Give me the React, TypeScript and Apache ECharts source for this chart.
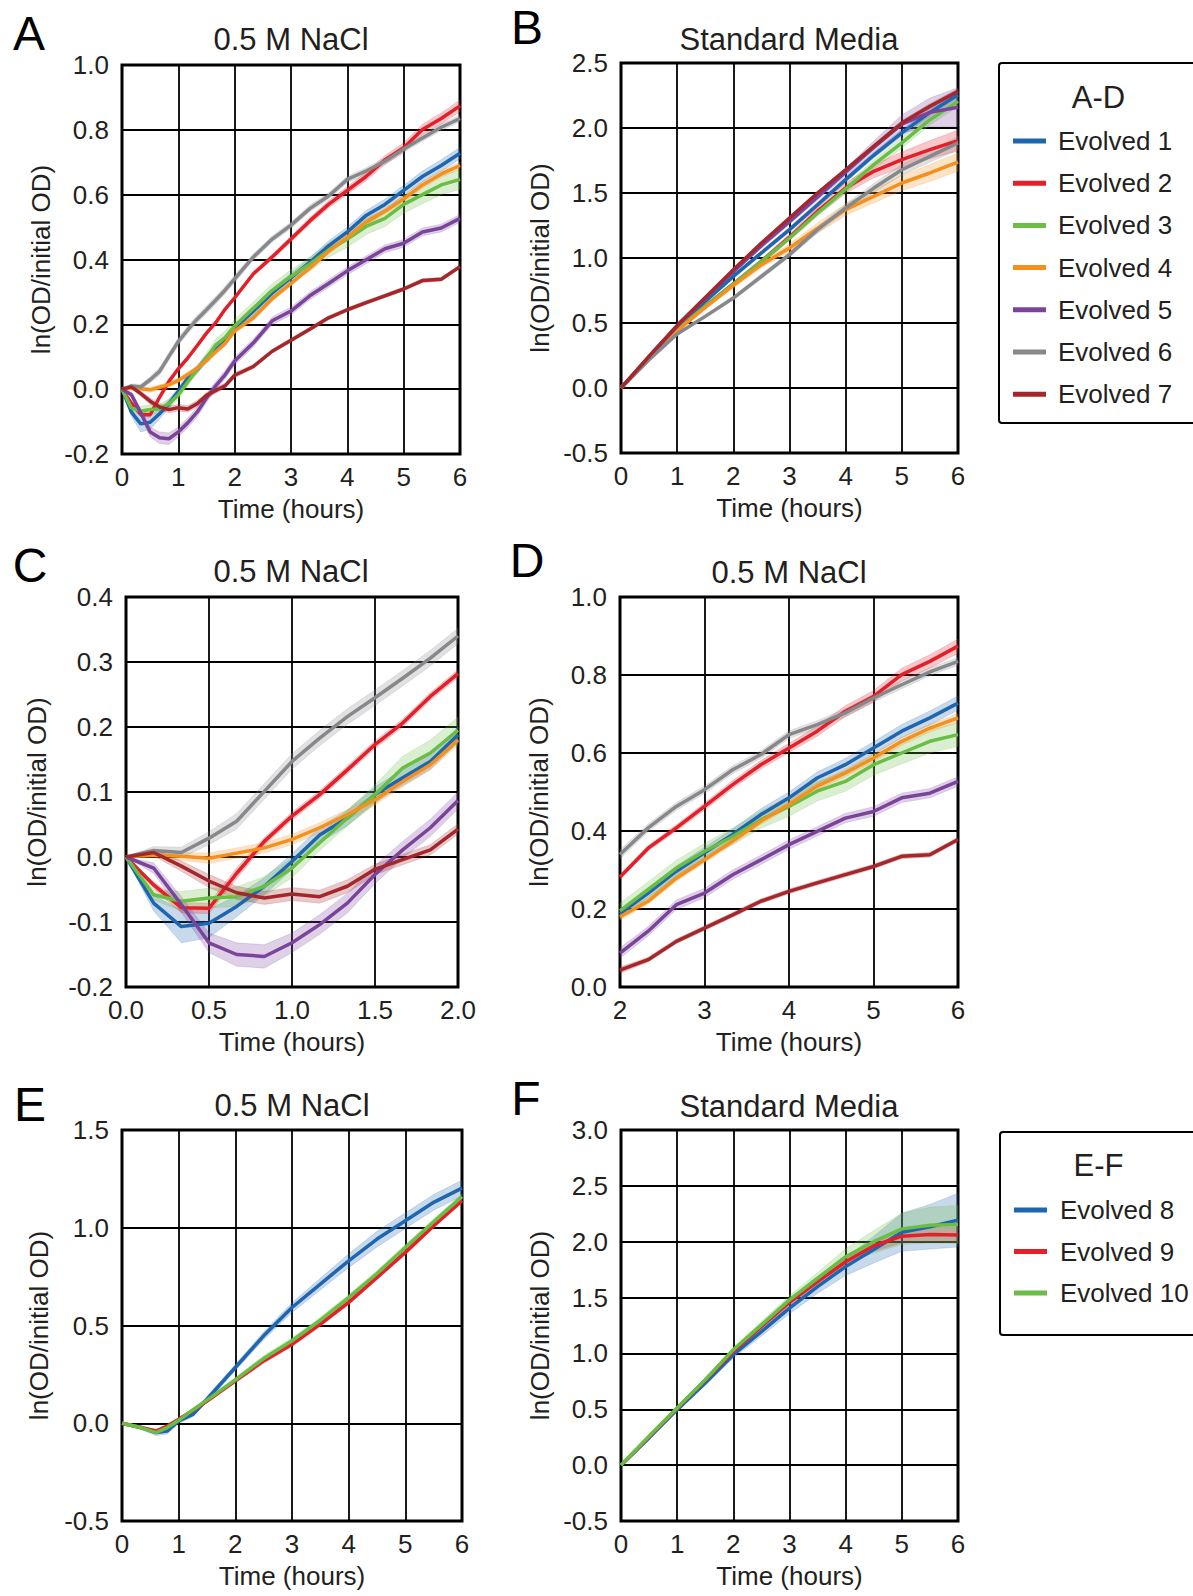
import React, { useEffect, useRef } from "react";
import * as echarts from "echarts";

// ---------- Data: 0.5 M NaCl, strains 1-7 (panels A, C, D) ----------
const tNaCl = [0, 1 / 6, 2 / 6, 3 / 6, 4 / 6, 5 / 6, 1, 7 / 6, 8 / 6, 9 / 6, 10 / 6, 11 / 6, 2, 7 / 3, 8 / 3, 3, 10 / 3, 11 / 3, 4, 13 / 3, 14 / 3, 5, 16 / 3, 17 / 3, 6];
const nacl1 = [0, -0.071, -0.107, -0.102, -0.076, -0.045, -0.007, 0.034, 0.06, 0.096, 0.122, 0.147, 0.188, 0.241, 0.297, 0.344, 0.391, 0.442, 0.485, 0.536, 0.57, 0.613, 0.656, 0.69, 0.728];
const nacl2 = [0, -0.043, -0.078, -0.079, -0.025, 0.024, 0.063, 0.096, 0.134, 0.173, 0.206, 0.247, 0.282, 0.356, 0.408, 0.463, 0.519, 0.57, 0.613, 0.656, 0.707, 0.745, 0.801, 0.835, 0.874];
const nacl3 = [0, -0.058, -0.068, -0.063, -0.061, -0.045, -0.017, 0.022, 0.06, 0.096, 0.137, 0.16, 0.195, 0.25, 0.305, 0.348, 0.386, 0.429, 0.463, 0.502, 0.527, 0.57, 0.6, 0.63, 0.647];
const nacl4 = [0, 0.003, 0.001, -0.002, 0.006, 0.014, 0.027, 0.045, 0.065, 0.088, 0.116, 0.142, 0.18, 0.22, 0.279, 0.326, 0.374, 0.425, 0.468, 0.515, 0.549, 0.587, 0.63, 0.664, 0.69];
const nacl5 = [0, -0.017, -0.073, -0.132, -0.15, -0.153, -0.132, -0.104, -0.071, -0.027, 0.011, 0.045, 0.087, 0.143, 0.211, 0.241, 0.288, 0.326, 0.365, 0.399, 0.433, 0.45, 0.485, 0.497, 0.527];
const nacl6 = [0, 0.01, 0.007, 0.029, 0.055, 0.101, 0.147, 0.183, 0.216, 0.245, 0.275, 0.306, 0.34, 0.408, 0.463, 0.506, 0.557, 0.596, 0.647, 0.673, 0.703, 0.741, 0.775, 0.808, 0.835];
const nacl7 = [0, 0.007, -0.014, -0.037, -0.055, -0.063, -0.057, -0.061, -0.045, -0.019, -0.004, 0.011, 0.043, 0.07, 0.117, 0.151, 0.185, 0.22, 0.245, 0.267, 0.288, 0.309, 0.335, 0.339, 0.378];

const naclErr1 = [0, 0.012, 0.025, 0.022, 0.016, 0.013, 0.012, 0.012, 0.012, 0.012, 0.012, 0.012, 0.012, 0.013, 0.013, 0.014, 0.014, 0.015, 0.015, 0.015, 0.016, 0.016, 0.017, 0.018, 0.018];
const naclErr2 = [0, 0.005, 0.008, 0.008, 0.008, 0.006, 0.006, 0.006, 0.006, 0.006, 0.006, 0.006, 0.006, 0.007, 0.008, 0.009, 0.01, 0.011, 0.012, 0.013, 0.014, 0.015, 0.016, 0.017, 0.018];
const naclErr3 = [0, 0.008, 0.015, 0.015, 0.015, 0.015, 0.015, 0.012, 0.012, 0.015, 0.018, 0.02, 0.02, 0.02, 0.02, 0.02, 0.022, 0.022, 0.025, 0.025, 0.025, 0.027, 0.028, 0.03, 0.03];
const naclErr4 = [0, 0.004, 0.006, 0.008, 0.008, 0.008, 0.008, 0.008, 0.008, 0.008, 0.008, 0.008, 0.008, 0.008, 0.008, 0.008, 0.008, 0.008, 0.009, 0.009, 0.009, 0.01, 0.01, 0.01, 0.011];
const naclErr5 = [0, 0.008, 0.012, 0.015, 0.018, 0.018, 0.015, 0.015, 0.015, 0.014, 0.013, 0.013, 0.013, 0.012, 0.012, 0.012, 0.012, 0.012, 0.012, 0.012, 0.012, 0.012, 0.012, 0.012, 0.012];
const naclErr6 = [0, 0.006, 0.008, 0.01, 0.012, 0.012, 0.012, 0.012, 0.012, 0.012, 0.012, 0.012, 0.012, 0.01, 0.01, 0.01, 0.01, 0.01, 0.01, 0.01, 0.01, 0.01, 0.01, 0.01, 0.01];
const naclErr7 = [0, 0.005, 0.008, 0.01, 0.01, 0.01, 0.01, 0.01, 0.01, 0.008, 0.008, 0.008, 0.008, 0.006, 0.006, 0.006, 0.006, 0.006, 0.006, 0.006, 0.006, 0.006, 0.006, 0.006, 0.006];

// ---------- Data: Standard media, strains 1-7 (panel B) ----------
const tStd = [0, 0.5, 1, 1.5, 2, 2.5, 3, 3.5, 4, 4.5, 5, 5.5, 6];
const std1 = [0, 0.235, 0.462, 0.665, 0.859, 1.04, 1.218, 1.41, 1.603, 1.79, 1.962, 2.12, 2.256];
const std2 = [0, 0.23, 0.449, 0.63, 0.8, 0.974, 1.16, 1.36, 1.538, 1.667, 1.756, 1.833, 1.903];
const std3 = [0, 0.23, 0.449, 0.63, 0.8, 0.974, 1.154, 1.346, 1.53, 1.718, 1.885, 2.064, 2.205];
const std4 = [0, 0.225, 0.44, 0.62, 0.79, 0.949, 1.077, 1.23, 1.372, 1.474, 1.577, 1.654, 1.738];
const std5 = [0, 0.24, 0.475, 0.69, 0.895, 1.095, 1.28, 1.47, 1.66, 1.85, 2.03, 2.12, 2.16];
const std6 = [0, 0.218, 0.415, 0.551, 0.692, 0.859, 1.026, 1.218, 1.385, 1.538, 1.679, 1.782, 1.885];
const std7 = [0, 0.244, 0.482, 0.697, 0.91, 1.115, 1.308, 1.5, 1.679, 1.859, 2.038, 2.167, 2.282];

const stdErr1 = [0, 0.01, 0.01, 0.012, 0.015, 0.015, 0.018, 0.02, 0.02, 0.022, 0.025, 0.028, 0.03];
const stdErr2 = [0, 0.01, 0.01, 0.012, 0.015, 0.02, 0.025, 0.03, 0.04, 0.05, 0.06, 0.07, 0.08];
const stdErr3 = [0, 0.01, 0.01, 0.012, 0.015, 0.02, 0.02, 0.025, 0.03, 0.035, 0.04, 0.04, 0.04];
const stdErr4 = [0, 0.01, 0.012, 0.015, 0.02, 0.025, 0.03, 0.04, 0.045, 0.05, 0.06, 0.065, 0.07];
const stdErr5 = [0, 0.01, 0.01, 0.012, 0.015, 0.02, 0.02, 0.025, 0.03, 0.05, 0.07, 0.11, 0.15];
const stdErr6 = [0, 0.01, 0.01, 0.012, 0.015, 0.02, 0.02, 0.025, 0.03, 0.035, 0.04, 0.045, 0.05];
const stdErr7 = [0, 0.01, 0.01, 0.01, 0.012, 0.012, 0.015, 0.015, 0.015, 0.018, 0.02, 0.02, 0.02];

// ---------- Data: 0.5 M NaCl, strains 8-10 (panel E) ----------
const tE = [0, 1 / 3, 0.6, 0.8, 1, 1.25, 1.5, 2, 2.5, 3, 3.5, 4, 4.5, 5, 5.5, 6];
const saltE8 = [0, -0.022, -0.048, -0.04, 0.012, 0.045, 0.123, 0.285, 0.447, 0.592, 0.712, 0.831, 0.942, 1.036, 1.13, 1.203];
const saltE9 = [0, -0.022, -0.04, -0.014, 0.02, 0.065, 0.114, 0.217, 0.319, 0.404, 0.507, 0.618, 0.746, 0.874, 1.01, 1.138];
const saltE10 = [0, -0.022, -0.048, -0.022, 0.015, 0.068, 0.118, 0.222, 0.331, 0.422, 0.527, 0.643, 0.766, 0.899, 1.031, 1.159];
const saltErr8 = [0, 0.01, 0.015, 0.015, 0.012, 0.012, 0.015, 0.015, 0.02, 0.025, 0.03, 0.035, 0.04, 0.04, 0.04, 0.04];
const saltErr9 = [0, 0.005, 0.008, 0.008, 0.008, 0.008, 0.01, 0.01, 0.012, 0.012, 0.012, 0.012, 0.012, 0.012, 0.012, 0.012];
const saltErr10 = [0, 0.005, 0.008, 0.008, 0.008, 0.01, 0.012, 0.012, 0.015, 0.015, 0.015, 0.015, 0.015, 0.015, 0.015, 0.015];

// ---------- Data: Standard media, strains 8-10 (panel F) ----------
const tF = [0, 0.5, 1, 1.5, 2, 2.5, 3, 3.5, 4, 4.5, 5, 5.5, 6];
const stdF8 = [0, 0.244, 0.497, 0.735, 0.988, 1.196, 1.405, 1.598, 1.777, 1.93, 2.085, 2.134, 2.193];
const stdF9 = [0, 0.255, 0.51, 0.76, 1.018, 1.241, 1.458, 1.643, 1.821, 1.964, 2.05, 2.065, 2.06];
const stdF10 = [0, 0.259, 0.512, 0.765, 1.033, 1.256, 1.479, 1.673, 1.866, 2.0, 2.115, 2.148, 2.155];
const stdFErr8 = [0, 0.01, 0.015, 0.02, 0.03, 0.04, 0.05, 0.06, 0.08, 0.12, 0.17, 0.2, 0.24];
const stdFErr9 = [0, 0.005, 0.01, 0.01, 0.015, 0.02, 0.03, 0.03, 0.04, 0.05, 0.06, 0.065, 0.07];
const stdFErr10 = [0, 0.01, 0.01, 0.015, 0.02, 0.03, 0.04, 0.05, 0.07, 0.1, 0.14, 0.16, 0.17];

// ---------- Labels & colours ----------
const namesAD = ["Evolved 1", "Evolved 2", "Evolved 3", "Evolved 4", "Evolved 5", "Evolved 6", "Evolved 7"];
const namesEF = ["Evolved 8", "Evolved 9", "Evolved 10"];
const colorsAD = ["#1f66b0", "#e3202a", "#6abd45", "#f4901e", "#7b449a", "#87888b", "#a4282b"];
const colorsEF = ["#1f66b0", "#e3202a", "#6abd45"];
const titles = ["0.5 M NaCl", "Standard Media", "0.5 M NaCl", "0.5 M NaCl", "0.5 M NaCl", "Standard Media"];
const letters = ["A", "B", "C", "D", "E", "F"];
const yName = "ln(OD/initial OD)";
const xName = "Time (hours)";

const FONT = "'Liberation Sans', Arial, Helvetica, sans-serif";
const INK = "#231f20";

function rgba(hex: string, a: number) {
  const n = parseInt(hex.slice(1), 16);
  return `rgba(${(n >> 16) & 255},${(n >> 8) & 255},${n & 255},${a})`;
}

function panelSeries(
  gi: number,
  t: number[],
  vals: number[][],
  errs: number[][],
  colors: string[],
  names: string[],
  tMin: number,
  tMax: number
) {
  const idx = t.map((_, k) => k).filter((k) => t[k] >= tMin - 1e-9 && t[k] <= tMax + 1e-9);
  const bands: any[] = [];
  const lines: any[] = [];
  vals.forEach((v, i) => {
    const pts = idx.map((k) => [t[k], v[k] - errs[i][k], v[k] + errs[i][k]]);
    bands.push({
      type: "custom",
      xAxisIndex: gi,
      yAxisIndex: gi,
      silent: true,
      z: 1,
      data: pts,
      encode: { x: 0, y: [1, 2] },
      renderItem: (params: any, api: any) => {
        if (params.dataIndex !== 0) return null;
        const up = pts.map((p) => api.coord([p[0], p[2]]));
        const lo = pts.map((p) => api.coord([p[0], p[1]])).reverse();
        return {
          type: "polygon",
          shape: { points: up.concat(lo) },
          style: { fill: rgba(colors[i], 0.25), stroke: rgba(colors[i], 0.18), lineWidth: 1 },
        };
      },
    });
    lines.push({
      type: "line",
      name: names[i],
      xAxisIndex: gi,
      yAxisIndex: gi,
      data: idx.map((k) => [t[k], v[k]]),
      showSymbol: false,
      symbol: "none",
      silent: true,
      z: 3,
      lineStyle: { color: colors[i], width: 3.5 },
      itemStyle: { color: colors[i] },
    });
  });
  return bands.concat(lines);
}

const labelStyle = { fontFamily: FONT, fontSize: 26, color: INK };

function xAxisOf(gi: number, min: number, max: number, interval: number, dec: number) {
  return {
    gridIndex: gi,
    type: "value",
    min,
    max,
    interval,
    axisLine: { show: false },
    axisTick: { show: false },
    splitLine: { show: true, lineStyle: { color: "#000", width: 1.8 } },
    axisLabel: { ...labelStyle, margin: 10, formatter: (v: number) => (Math.abs(v) < 1e-9 ? 0 : v).toFixed(dec) },
    name: xName,
    nameLocation: "middle",
    nameGap: 42,
    nameTextStyle: labelStyle,
  };
}

function yAxisOf(gi: number, min: number, max: number, interval: number, gap: number) {
  return {
    gridIndex: gi,
    type: "value",
    min,
    max,
    interval,
    axisLine: { show: false },
    axisTick: { show: false },
    splitLine: { show: true, lineStyle: { color: "#000", width: 1.8 } },
    axisLabel: { ...labelStyle, margin: 13, formatter: (v: number) => (Math.abs(v) < 1e-9 ? 0 : v).toFixed(1) },
    name: yName,
    nameLocation: "middle",
    nameGap: gap,
    nameTextStyle: labelStyle,
  };
}

const grids = [
  { left: 122, top: 65, width: 338, height: 389 },
  { left: 621, top: 63, width: 337, height: 390 },
  { left: 126, top: 597, width: 332, height: 390 },
  { left: 620, top: 597, width: 338, height: 390 },
  { left: 122, top: 1130, width: 340, height: 391 },
  { left: 621, top: 1130, width: 337, height: 391 },
];
const titlePos = [
  [291, 39],
  [789, 39],
  [291, 571],
  [789, 572],
  [292, 1105],
  [789, 1106],
];
const letterPos = [
  [29, 33],
  [527, 27],
  [30, 565],
  [527, 560],
  [30, 1104],
  [526, 1098],
];

function legendGraphic(x: number, y: number, h: number, title: string, titleY: number, names: string[], colors: string[], itemY0: number, step: number, swX: number, txX: number) {
  const els: any[] = [
    { type: "rect", shape: { x, y, width: 260, height: h, r: 3 }, style: { fill: "#fff", stroke: "#000", lineWidth: 2 }, z: 10 },
    { type: "text", x: 1098.5, y: titleY, style: { text: title, fontFamily: FONT, fontSize: 31, fill: INK, textAlign: "center", textVerticalAlign: "middle" }, z: 11 },
  ];
  names.forEach((n, i) => {
    const cy = itemY0 + i * step;
    els.push({ type: "rect", shape: { x: swX, y: cy - 2.5, width: 33, height: 5 }, style: { fill: colors[i] }, z: 11 });
    els.push({ type: "text", x: txX, y: cy, style: { text: n, fontFamily: FONT, fontSize: 26, fill: INK, textAlign: "left", textVerticalAlign: "middle" }, z: 11 });
  });
  return els;
}

export default function App() {
  const ref = useRef<HTMLDivElement>(null);
  useEffect(() => {
    if (!ref.current) return;
    const chart = echarts.init(ref.current, undefined, { renderer: "svg" });

    const valsAD = [nacl1, nacl2, nacl3, nacl4, nacl5, nacl6, nacl7];
    const errsAD = [naclErr1, naclErr2, naclErr3, naclErr4, naclErr5, naclErr6, naclErr7];
    const valsB = [std1, std2, std3, std4, std5, std6, std7];
    const errsB = [stdErr1, stdErr2, stdErr3, stdErr4, stdErr5, stdErr6, stdErr7];

    const series = [
      ...panelSeries(0, tNaCl, valsAD, errsAD, colorsAD, namesAD, 0, 6),
      ...panelSeries(1, tStd, valsB, errsB, colorsAD, namesAD, 0, 6),
      ...panelSeries(2, tNaCl, valsAD, errsAD, colorsAD, namesAD, 0, 2),
      ...panelSeries(3, tNaCl, valsAD, errsAD, colorsAD, namesAD, 2, 6),
      ...panelSeries(4, tE, [saltE8, saltE9, saltE10], [saltErr8, saltErr9, saltErr10], colorsEF, namesEF, 0, 6),
      ...panelSeries(5, tF, [stdF8, stdF9, stdF10], [stdFErr8, stdFErr9, stdFErr10], colorsEF, namesEF, 0, 6),
    ];

    const graphics: any[] = [];
    titles.forEach((t, i) => {
      graphics.push({ type: "text", x: titlePos[i][0], y: titlePos[i][1], style: { text: t, fontFamily: FONT, fontSize: 31, fill: INK, textAlign: "center", textVerticalAlign: "middle" } });
      graphics.push({ type: "text", x: letterPos[i][0], y: letterPos[i][1], style: { text: letters[i], fontFamily: FONT, fontSize: 48, fill: "#000", textAlign: "center", textVerticalAlign: "middle" } });
    });
    graphics.push(...legendGraphic(999, 63, 360, "A-D", 97, namesAD, colorsAD, 141, 42.2, 1013, 1058));
    graphics.push(...legendGraphic(1000, 1132, 203, "E-F", 1165, namesEF, colorsEF, 1210, 41.5, 1014, 1060));

    chart.setOption({
      animation: false,
      backgroundColor: "#fff",
      grid: grids.map((g) => ({ ...g, show: true, borderColor: "#000", borderWidth: 3, backgroundColor: "transparent", containLabel: false })),
      xAxis: [
        xAxisOf(0, 0, 6, 1, 0),
        xAxisOf(1, 0, 6, 1, 0),
        xAxisOf(2, 0, 2, 0.5, 1),
        xAxisOf(3, 2, 6, 1, 0),
        xAxisOf(4, 0, 6, 1, 0),
        xAxisOf(5, 0, 6, 1, 0),
      ],
      yAxis: [
        yAxisOf(0, -0.2, 1.0, 0.2, 68),
        yAxisOf(1, -0.5, 2.5, 0.5, 68),
        yAxisOf(2, -0.2, 0.4, 0.1, 76),
        yAxisOf(3, 0, 1.0, 0.2, 68),
        yAxisOf(4, -0.5, 1.5, 0.5, 70),
        yAxisOf(5, -0.5, 3.0, 0.5, 68),
      ],
      series,
      graphic: graphics,
    });
    return () => chart.dispose();
  }, []);
  return <div ref={ref} style={{ position: "absolute", left: 0, top: 0, width: 1193, height: 1596 }} />;
}
